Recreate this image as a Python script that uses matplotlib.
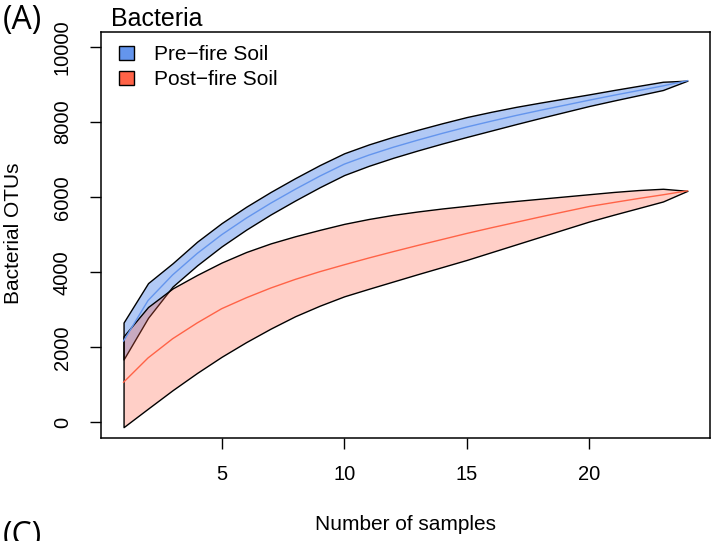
import numpy as np
import matplotlib.pyplot as plt
from matplotlib.patches import Patch

plt.rcParams['font.family'] = ['Liberation Sans', 'DejaVu Sans']

# rarefaction: number of pooled samples
samples = np.arange(1, 25)

# pre-fire soil OTUs (mean and 95% band)
pre_mean = [2170, 3250, 3930, 4500, 5000, 5440, 5840, 6210, 6560, 6880, 7120, 7330,
            7520, 7700, 7870, 8025, 8175, 8315, 8450, 8585, 8715, 8840, 8965, 9104]
pre_upper = [2662, 3712, 4240, 4815, 5310, 5745, 6140, 6508, 6855, 7170, 7405, 7610,
             7795, 7970, 8135, 8275, 8405, 8520, 8630, 8740, 8855, 8965, 9075, 9104]
pre_lower = [1678, 2788, 3620, 4185, 4690, 5135, 5540, 5912, 6265, 6590, 6835, 7050,
             7245, 7430, 7605, 7775, 7945, 8110, 8270, 8430, 8575, 8715, 8855, 9104]

# post-fire soil OTUs
post_mean = [1072, 1720, 2230, 2650, 3030, 3320, 3580, 3810, 4015, 4200, 4380, 4550,
             4715, 4875, 5035, 5185, 5330, 5475, 5615, 5753, 5860, 5965, 6064, 6170]
post_upper = [2295, 3076, 3570, 3930, 4260, 4540, 4770, 4960, 5130, 5290, 5420, 5530,
              5620, 5700, 5770, 5840, 5900, 5960, 6020, 6080, 6140, 6190, 6225, 6170]
post_lower = [-125, 370, 860, 1320, 1750, 2140, 2500, 2830, 3110, 3360, 3560, 3755,
              3950, 4140, 4330, 4535, 4740, 4945, 5150, 5354, 5535, 5710, 5886, 6170]

blue = '#6495ED'
red = '#FF6347'

W, H = 711, 541
fig = plt.figure(figsize=(W / 100, H / 100), dpi=100)
ax = fig.add_axes([101 / W, 1 - 437.5 / H, 609 / W, 405.5 / H])

ax.fill_between(samples, pre_lower, pre_upper, facecolor=(0.392, 0.584, 0.929, 0.5),
                edgecolor='black', lw=1)
ax.plot(samples, pre_mean, color=blue, lw=1)
ax.fill_between(samples, post_lower, post_upper, facecolor=(1.0, 0.388, 0.278, 0.3),
                edgecolor='black', lw=1)
ax.plot(samples, post_mean, color=red, lw=1)

ax.set_xlim(0.08, 24.92)
ax.set_ylim(-400, 10400)
ax.set_xticks([5, 10, 15, 20])
ax.set_yticks(range(0, 10001, 2000))
ax.tick_params(length=8, width=1, labelsize=14.5, pad=13)
ax.tick_params(axis='x', pad=12)
for lab in ax.get_yticklabels():
    lab.set_rotation(90)
    lab.set_va('center')
for s in ax.spines.values():
    s.set_linewidth(1.1)

handles = [Patch(facecolor=blue, edgecolor='black', lw=1, label='Pre\u2212fire Soil'),
           Patch(facecolor=red, edgecolor='black', lw=1, label='Post\u2212fire Soil')]
ax.legend(handles=handles, loc='upper left', bbox_to_anchor=(0.029, 0.968),
          frameon=False, fontsize=15, borderpad=0, borderaxespad=0,
          handlelength=0.75, handleheight=0.65, handletextpad=0.95, labelspacing=0.3)

fig.text(111 / W, 1 - 26 / H, 'Bacteria', fontsize=18, ha='left', va='baseline')
fig.text(405.5 / W, 1 - 525 / H, 'Number of samples', fontsize=15, ha='center', va='center')
fig.text(14 / W, 1 - 233 / H, 'Bacterial OTUs', fontsize=15, rotation=90,
         ha='center', va='center')
fig.text(3 / W, 1 - 21 / H, '(A)', fontsize=23, family=['Open Sans', 'DejaVu Sans'],
         ha='left', va='center')
fig.text(3 / W, 1 - 537 / H, '(C)', fontsize=23, family=['Open Sans', 'DejaVu Sans'],
         ha='left', va='center')

fig.savefig('out.png', dpi=100)
